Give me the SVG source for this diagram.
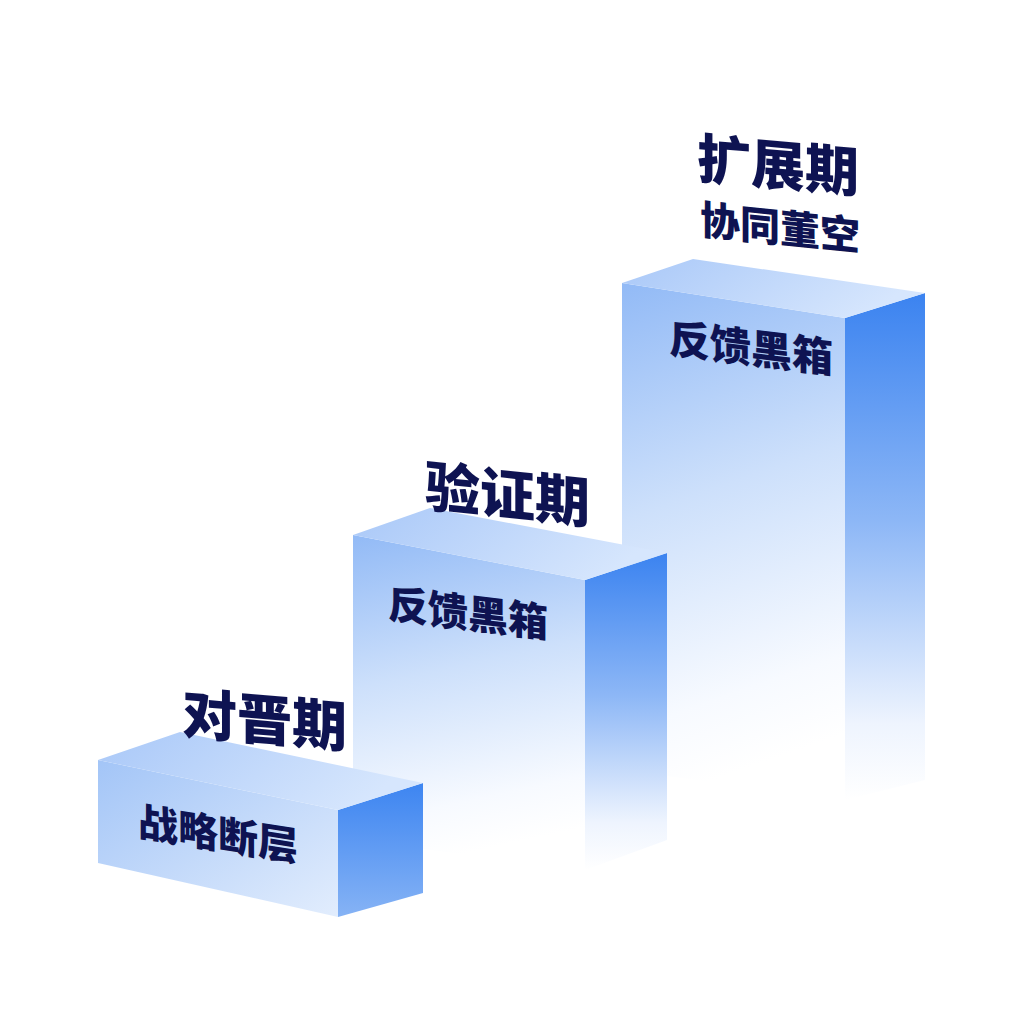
<svg xmlns="http://www.w3.org/2000/svg" width="1024" height="1024" viewBox="0 0 1024 1024">
<defs>
<linearGradient id="topG" x1="0" y1="0" x2="1" y2="0.3">
<stop offset="0" stop-color="#a9c8f8"/><stop offset="1" stop-color="#d6e6fd"/>
</linearGradient>
<linearGradient id="frontTall" x1="0" y1="0" x2="0.15" y2="1">
<stop offset="0" stop-color="#92baf6"/><stop offset="0.45" stop-color="#cde0fb"/><stop offset="0.85" stop-color="#f7faff"/><stop offset="1" stop-color="#ffffff"/>
</linearGradient>
<linearGradient id="sideTall" x1="0" y1="0" x2="0" y2="1">
<stop offset="0" stop-color="#3b83f0"/><stop offset="0.45" stop-color="#8db7f6"/><stop offset="0.85" stop-color="#eef4fe"/><stop offset="1" stop-color="#ffffff"/>
</linearGradient>
<linearGradient id="frontLow" x1="0" y1="0" x2="1" y2="1">
<stop offset="0" stop-color="#a3c5f7"/><stop offset="1" stop-color="#e2edfd"/>
</linearGradient>
<linearGradient id="sideLow" x1="0" y1="0" x2="0" y2="1">
<stop offset="0" stop-color="#3d85f1"/><stop offset="1" stop-color="#86b3f5"/>
</linearGradient>
<style>
.h{font-family:"Noto Sans CJK SC","Noto Sans",sans-serif;font-weight:900;fill:#0e1352}
.s{font-family:"Noto Sans CJK SC","Noto Sans",sans-serif;font-weight:900;fill:#0e1352}
</style>
</defs>
<rect width="1024" height="1024" fill="#ffffff"/>

<g id="block-expand">
<polygon points="622,283 845,318 845,800 622,770" fill="url(#frontTall)"/>
<polygon points="845,318 925,293 925,780 845,800" fill="url(#sideTall)"/>
<polygon points="622,283 693,259 925,293 845,318" fill="url(#topG)"/>
<text class="h" font-size="54" transform="translate(697,178) skewY(5)">扩展期</text>
<text class="s" font-size="40" transform="translate(700,234) skewY(6)">协同董空</text>
<text class="s" font-size="41" transform="translate(669,353) skewY(7)">反馈黑箱</text>
</g>

<g id="block-verify">
<polygon points="353,535 585,580 585,870 353,840" fill="url(#frontTall)"/>
<polygon points="585,580 667,553 667,840 585,870" fill="url(#sideTall)"/>
<polygon points="353,535 430,508 667,553 585,580" fill="url(#topG)"/>
<text class="h" font-size="55" transform="translate(425,506) skewY(6)">验证期</text>
<text class="s" font-size="40" transform="translate(388,618) skewY(7)">反馈黑箱</text>
</g>

<g id="block-confront">
<polygon points="98,760 338,810 338,917 98,863" fill="url(#frontLow)"/>
<polygon points="338,810 423,783 423,893 338,917" fill="url(#sideLow)"/>
<polygon points="98,760 180,732 423,783 338,810" fill="url(#topG)"/>
<text class="h" font-size="55" transform="translate(182,733) skewY(5)">对晋期</text>
<text class="s" font-size="40" transform="translate(138,836) skewY(9)">战略断层</text>
</g>

<g id="connectors"/>
</svg>
